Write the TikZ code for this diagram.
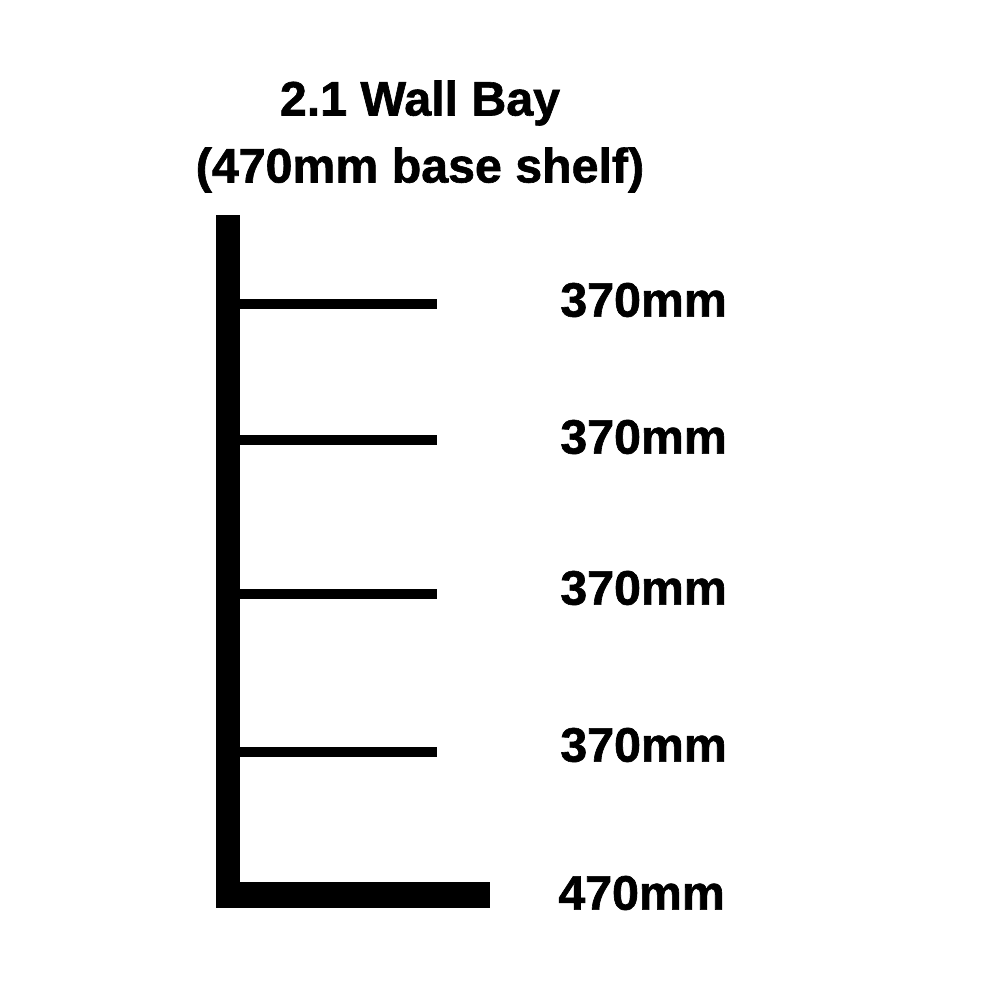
\documentclass[tikz,border=0pt]{standalone}
\usepackage{fontspec}
\setmainfont{Liberation Sans}[BoldFeatures={FakeBold=1.3}]
\usetikzlibrary{positioning}

\begin{document}
\begin{tikzpicture}[x=0.02cm,y=-0.02cm,
                    title node/.style={font=\fontsize{27.5}{33}\selectfont\bfseries,inner sep=0},
                    size node/.style={font=\fontsize{27.5}{33}\selectfont\bfseries,inner sep=0,anchor=west},
                    shelf line/.style={line width=0.2cm}]

                \useasboundingbox (0,0) rectangle (1000,1000);

                \node[title node] (title) at (420,103) {2.1 Wall Bay};
                \node[title node] (subtitle) at (420,170) {(470mm base shelf)};

                % upright and base shelf
                \fill (216,215) rectangle (240,908);
                \fill (216,882) rectangle (490,908);

                \foreach \y/\name in {304/one,440/two,594/three,752/four}{
                    \coordinate (\name L) at (240,\y);
                    \coordinate (\name R) at (437,\y);
                    \draw[shelf line] (\name L) -- (\name R);
                }

                \node[size node] (sone) at (560,300) {370mm};
                \node[size node] (stwo) at (560,437) {370mm};
                \node[size node] (sthree) at (560,588) {370mm};
                \node[size node] (sfour) at (560,745) {370mm};
                \node[size node] (sbase) at (558,893) {470mm};
            \end{tikzpicture}
\end{document}
